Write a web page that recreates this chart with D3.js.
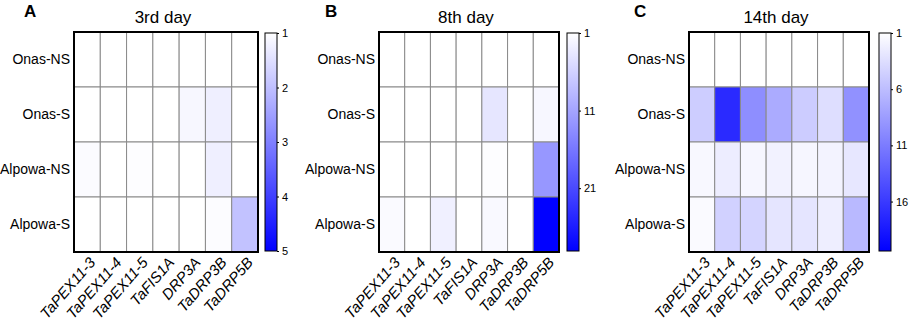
<!DOCTYPE html>
<html>
<head>
<meta charset="utf-8">
<script src="https://cdn.jsdelivr.net/npm/d3@7"></script>
<style>
  body { margin: 0; background: #fff; }
  text { font-family: "Liberation Sans", Arial, sans-serif; fill: #000; }
  .rowlabel { font-size: 14px; }
  .collabel { font-size: 15px; font-style: italic; }
  .title { font-size: 17px; }
  .letter { font-size: 17px; font-weight: bold; }
  .cbar text { font-size: 11px; }
</style>
</head>
<body>
<div id="chart"></div>
<script>
const genes = ['TaPEX11-3','TaPEX11-4','TaPEX11-5','TaFIS1A','DRP3A','TaDRP3B','TaDRP5B'];
const lines = ['Onas-NS','Onas-S','Alpowa-NS','Alpowa-S'];

// fold change per row (lines) and column (genes)
const day3 = [
  [1, 1, 1, 1, 1, 1, 1],
  [1, 1, 1, 1, 1.12, 1.25, 1],
  [1.07, 1, 1.03, 1, 1, 1.25, 1],
  [1, 1, 1, 1, 1, 1.05, 1.95]
];
const day8 = [
  [1, 1, 1, 1, 1, 1, 1],
  [1, 1, 1, 1, 3.8, 1, 1.9],
  [1, 1, 1, 1, 1.2, 1, 12.5],
  [1.5, 1, 2.7, 1, 1.7, 1, 29]
];
const day14 = [
  [1, 1, 1, 1, 1, 1, 1],
  [4.8, 17.2, 9.6, 7.4, 4.9, 3.5, 9.4],
  [1.5, 2.4, 1.7, 2.0, 1.7, 1.9, 2.8],
  [1.4, 4.5, 4.3, 3.0, 3.0, 2.3, 6.3]
];

const ticks3 = [1, 2, 3, 4, 5];
const ticks8 = [1, 11, 21];
const ticks14 = [1, 6, 11, 16];

const panels = [
  {letter:'A', title:'3rd day', data:day3, ticks:ticks3, max:5, x0:74, x1:258, cb:265, lx:24},
  {letter:'B', title:'8th day', data:day8, ticks:ticks8, max:29.1, x0:379, x1:559, cb:567, lx:325},
  {letter:'C', title:'14th day', data:day14, ticks:ticks14, max:20.4, x0:689, x1:869, cb:879, lx:634}
];

const W = 913, H = 325, plotTop = 32, plotBottom = 252, cbW = 12;

const svg = d3.select('#chart').append('svg')
  .attr('width', W).attr('height', H);

const defs = svg.append('defs');
const grad = defs.append('linearGradient')
  .attr('id', 'cbgrad').attr('x1', 0).attr('y1', 0).attr('x2', 0).attr('y2', 1);
grad.append('stop').attr('offset', '0%').attr('stop-color', '#ffffff');
grad.append('stop').attr('offset', '100%').attr('stop-color', '#0000ff');

panels.forEach(function(p){
  const g = svg.append('g');

  const x = d3.scaleBand().domain(genes).range([p.x0, p.x1]);
  const y = d3.scaleBand().domain(lines).range([plotTop, plotBottom]);
  const color = d3.scaleLinear().domain([1, p.max]).range(['#ffffff', '#0000ff']);

  const cells = [];
  p.data.forEach(function(row, i){
    row.forEach(function(v, j){
      cells.push({line: lines[i], gene: genes[j], v: v});
    });
  });

  g.selectAll('rect.cell')
    .data(cells)
    .enter()
    .append('rect')
    .attr('class', 'cell')
    .attr('x', function(d){ return x(d.gene); })
    .attr('y', function(d){ return y(d.line); })
    .attr('width', x.bandwidth())
    .attr('height', y.bandwidth())
    .attr('fill', function(d){ return color(d.v); })
    .attr('stroke', '#8a8a8a')
    .attr('stroke-width', 1);

  g.append('rect')
    .attr('x', p.x0).attr('y', plotTop)
    .attr('width', p.x1 - p.x0).attr('height', plotBottom - plotTop)
    .attr('fill', 'none').attr('stroke', '#000').attr('stroke-width', 2);

  // row labels
  g.selectAll('text.rowlabel')
    .data(lines)
    .enter()
    .append('text')
    .attr('class', 'rowlabel')
    .attr('x', p.x0 - 4)
    .attr('y', function(d){ return y(d) + y.bandwidth() / 2; })
    .attr('dy', '0.35em')
    .style('text-anchor', 'end')
    .text(function(d){ return d; });

  // column labels
  g.selectAll('text.collabel')
    .data(genes)
    .enter()
    .append('text')
    .attr('class', 'collabel')
    .attr('transform', function(d){
      return 'translate(' + (x(d) + x.bandwidth() / 2 + 9) + ',' + 263 + ') rotate(-49)';
    })
    .style('text-anchor', 'end')
    .text(function(d){ return d; });

  g.append('text')
    .attr('class', 'title')
    .attr('x', (p.x0 + p.x1) / 2 - 3)
    .attr('y', 23)
    .style('text-anchor', 'middle')
    .text(p.title);

  g.append('text')
    .attr('class', 'letter')
    .attr('x', p.lx)
    .attr('y', 17)
    .text(p.letter);

  // colour bar
  const cy = d3.scaleLinear().domain([1, p.max]).range([plotTop + 1, plotBottom - 1]);
  g.append('rect')
    .attr('x', p.cb).attr('y', plotTop + 1)
    .attr('width', cbW).attr('height', plotBottom - plotTop - 2)
    .attr('fill', 'url(#cbgrad)')
    .attr('stroke', '#000').attr('stroke-width', 1);

  const axis = d3.axisRight(cy).tickValues(p.ticks).tickSize(2).tickPadding(3)
    .tickFormat(d3.format('d'));
  const ag = g.append('g')
    .attr('class', 'cbar')
    .attr('transform', 'translate(' + (p.cb + cbW) + ',0)')
    .call(axis);
  ag.select('.domain').remove();
  ag.selectAll('line').attr('stroke', '#000');
  ag.selectAll('text').style('font-family', '"Liberation Sans", Arial, sans-serif');
});
</script>
</body>
</html>
